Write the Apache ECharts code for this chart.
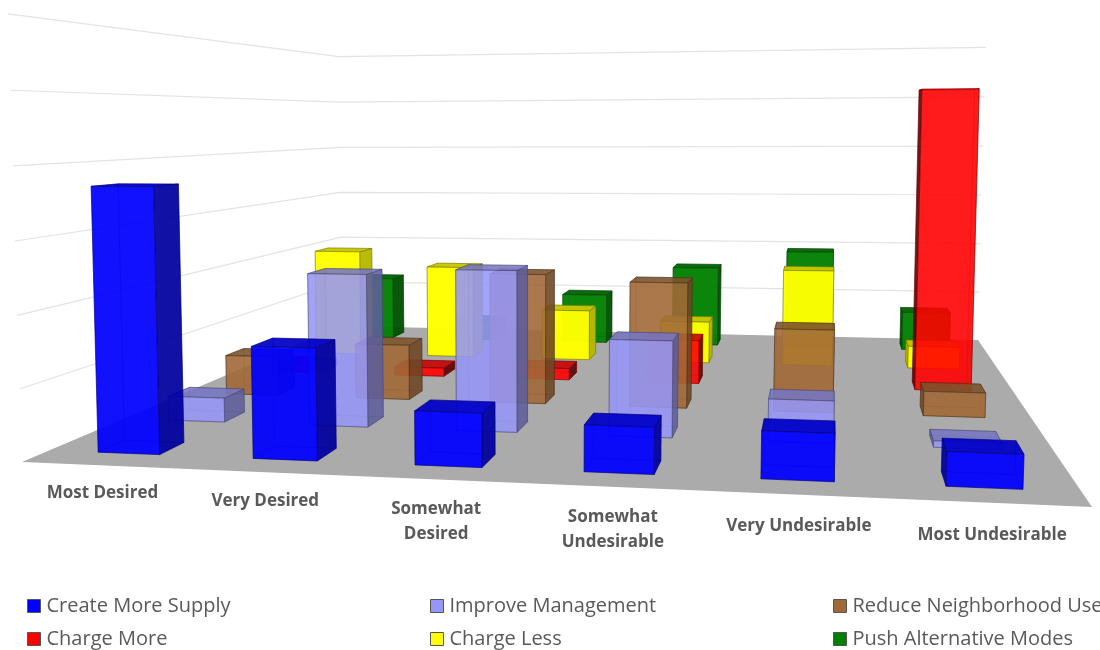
<!DOCTYPE html>
<html><head><meta charset="utf-8">
<style>html,body{margin:0;padding:0;background:#fff;overflow:hidden}#c{width:1100px;height:650px}</style>
<script src="https://cdn.jsdelivr.net/npm/echarts@6/dist/echarts.min.js"></script></head>
<body><div id="c"></div>
<script>
const categories = ['Most Desired','Very Desired','Somewhat\nDesired','Somewhat\nUndesirable','Very Undesirable','Most Undesirable'];
const gridLevels = [10,20,30,40,50,60];
const createMoreSupply = [37,15.4,7.3,6.2,6.2,4.4];
const improveManagement = [3.7,23,23.9,14.1,6.1,0.9];
const reduceNeighborhoodUse = [6.5,9,21,20,13,3.8];
const chargeMore = [1.5,1.5,2,7.5,0,50.5];
const chargeLess = [20.2,17.4,9.4,7.7,17.7,4];
const pushAlternativeModes = [12.5,4,9.8,15.7,19.2,7.4];

const seriesDefs = [
 {name:'Push Alternative Modes',values:pushAlternativeModes,rgb:[0,128,0],a:.95,row:5,side:.62},
 {name:'Charge Less',values:chargeLess,rgb:[255,255,0],a:.97,row:4,side:.72},
 {name:'Charge More',values:chargeMore,rgb:[255,0,0],a:.87,row:3,side:.33},
 {name:'Reduce Neighborhood Use',values:reduceNeighborhoodUse,rgb:[160,105,55],a:.88,row:2,side:.68},
 {name:'Improve Management',values:improveManagement,rgb:[150,150,248],a:.85,row:1,side:.62},
 {name:'Create More Supply',values:createMoreSupply,rgb:[0,0,255],a:.92,row:0,side:.62}
];

// Scene projection: floor corners and wall tops define a projective camera
const FL=[22,462],FR=[1092,507],BL=[342,326],BR=[978,340],FLtop=[8,11],BLtop=[342,55],BRtop=[986,51],HMAX=60;
const dx1=FR[0]-BR[0],dx2=BL[0]-BR[0],sx=FL[0]-FR[0]+BR[0]-BL[0];
const dy1=FR[1]-BR[1],dy2=BL[1]-BR[1],sy=FL[1]-FR[1]+BR[1]-BL[1];
const den=dx1*dy2-dx2*dy1;
const g=(sx*dy2-dx2*sy)/den,h=(dx1*sy-sx*dy1)/den;
const A=FR[0]-FL[0]+g*FR[0],B=BL[0]-FL[0]+h*BL[0],C=FL[0];
const D=FR[1]-FL[1]+g*FR[1],E=BL[1]-FL[1]+h*BL[1],F=FL[1];
const wBR=g+h+1,wBL=h+1;
const Vw=((FLtop[0]-FL[0])-wBR*(BRtop[0]-BR[0]))/(BRtop[0]-FLtop[0]);
const Vx=(FLtop[0]-FL[0])+Vw*FLtop[0];
const Vy=(((FLtop[1]-FL[1])+Vw*FLtop[1])+(wBL*(BLtop[1]-BL[1])+Vw*BLtop[1])+(wBR*(BRtop[1]-BR[1])+Vw*BRtop[1]))/3;
function project(u,v,z){
  const t=z/HMAX, w=g*u+h*v+1+Vw*t;
  return [(A*u+B*v+C+Vx*t)/w,(D*u+E*v+F+Vy*t)/w];
}
const BAR_W=.40, BAR_D=.35;
const LABEL_SHIFT=[35,29,23,14,5,-7];
const rgba=(c,k,a)=>`rgba(${Math.round(c[0]*k)},${Math.round(c[1]*k)},${Math.round(c[2]*k)},${a})`;

function barRenderer(def){
  return function(params,api){
    const cat=api.value(0), val=api.value(1);
    if(!(val>0)) return null;
    const cu=cat*.996+.52;
    const u0=(cu-BAR_W/2)/6,u1=(cu+BAR_W/2)/6,v0=(def.row+.5-BAR_D/2)/6,v1=(def.row+.5+BAR_D/2)/6;
    const P=(u,v,z)=>api.coord(project(u,v,z));
    const rightVis=P(u1,v1,0)[0]>P(u1,v0,0)[0], leftVis=P(u0,v1,0)[0]<P(u0,v0,0)[0];
    const ghost=.18;
    const face=(pts,k,a)=>({type:'polygon',shape:{points:pts.map(p=>P(p[0],p[1],p[2]))},
      style:{fill:rgba(def.rgb,k,a),stroke:rgba(def.rgb,.45,Math.min(.7,a+.1)),lineWidth:.8}});
    const L=[[u0,v0,0],[u0,v1,0],[u0,v1,val],[u0,v0,val]],R=[[u1,v0,0],[u1,v1,0],[u1,v1,val],[u1,v0,val]];
    return {type:'group',children:[
      face([[u0,v0,0],[u1,v0,0],[u1,v1,0],[u0,v1,0]],.8,ghost),
      face([[u0,v1,0],[u1,v1,0],[u1,v1,val],[u0,v1,val]],.9,ghost),
      face(L,def.side,leftVis?def.a:ghost),
      face(R,def.side,rightVis?def.a:ghost),
      face([[u0,v1,val],[u1,v1,val],[u1,v0,val],[u0,v0,val]],.78,def.a),
      face([[u0,v0,0],[u1,v0,0],[u1,v0,val],[u0,v0,val]],1,def.a)
    ]};
  };
}

const series=[{type:'custom',name:'floor',silent:true,coordinateSystem:'cartesian2d',z:1,
  data:[[0]],
  renderItem:(p,api)=>({type:'polygon',shape:{points:[[0,0],[1,0],[1,1],[0,1]].map(q=>api.coord(project(q[0],q[1],0)))},style:{fill:'#ababab'}})},
 {type:'custom',name:'grid',silent:true,coordinateSystem:'cartesian2d',z:1,
  data:gridLevels.map(l=>[l]),
  renderItem:(p,api)=>{const l=api.value(0);return {type:'polyline',shape:{points:[[0,0],[0,1],[1,1]].map(q=>api.coord(project(q[0],q[1],l)))},style:{stroke:'#e3e3e3',lineWidth:1.2,fill:null}};}}
];
seriesDefs.forEach((d,i)=>series.push({type:'custom',name:d.name,coordinateSystem:'cartesian2d',z:2+i,
  itemStyle:{color:`rgb(${d.rgb.join(',')})`},
  data:d.values.map((v,c)=>[c,v]),renderItem:barRenderer(d)}));
series.push({type:'custom',name:'labels',silent:true,coordinateSystem:'cartesian2d',z:20,
  data:categories.map((c,i)=>[i]),
  renderItem:(p,api)=>{const i=api.value(0),q=api.coord(project((i+.5)/6,-.065,0));
    return {type:'text',x:q[0]+LABEL_SHIFT[i],y:q[1],style:{text:categories[i],fill:'#595959',font:'bold 17px "Open Sans"',textAlign:'center',textVerticalAlign:'top',lineHeight:25}};}});

const leg=(left,names)=>({left,top:596,height:60,padding:0,orient:'vertical',itemWidth:13,itemHeight:13,itemGap:13,icon:'rect',
  data:names,selectedMode:false,itemStyle:{borderColor:'#555',borderWidth:1},
  textStyle:{fontFamily:'"Open Sans"',fontSize:20,lineHeight:20,color:'#595959',padding:[0,0,0,1]}});
const chart=echarts.init(document.getElementById('c'),null,{renderer:'canvas'});
chart.setOption({animation:false,backgroundColor:'#fff',
  grid:{left:0,right:0,top:0,bottom:0},
  xAxis:{type:'value',min:0,max:1100,show:false},
  yAxis:{type:'value',min:0,max:650,inverse:true,show:false},
  legend:[leg(27,['Create More Supply','Charge More']),leg(430,['Improve Management','Charge Less']),leg(833,['Reduce Neighborhood Use','Push Alternative Modes'])],
  series});
</script></body></html>
